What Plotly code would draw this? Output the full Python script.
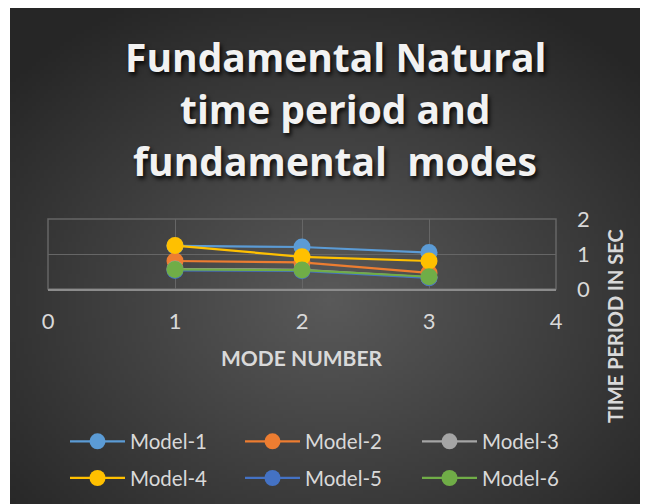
import base64
import struct
import zlib

import numpy as np
import plotly.graph_objects as go

# ---------------- data ----------------
mode_number = [1, 2, 3]
series_names = ["Model-1", "Model-2", "Model-3", "Model-4", "Model-5", "Model-6"]
model_1 = [1.23, 1.20, 1.04]
model_2 = [0.80, 0.76, 0.46]
model_3 = [0.57, 0.55, 0.33]
model_4 = [1.24, 0.92, 0.80]
model_5 = [0.53, 0.52, 0.32]
model_6 = [0.56, 0.54, 0.35]
series_values = [model_1, model_2, model_3, model_4, model_5, model_6]
series_colors = ["#5B9BD5", "#ED7D31", "#A5A5A5", "#FFC000", "#4472C4", "#70AD47"]
x_ticks = [0, 1, 2, 3, 4]
y_ticks = [0, 1, 2]
title_lines = ["Fundamental Natural", "time period and", "fundamental  modes"]

# ---------------- geometry (figure pixels; page body adds 8px offset) ----------------
OFF = 8
W, H = 640, 496
L, R, T, B = 40, 92, 211, 215
PW, PH = W - L - R, H - T - B


def sx(px):  # screen x -> figure paper x
    return (px - OFF - L) / PW


def sy(py):  # screen y -> figure paper y
    return (H - B - (py - OFF)) / PH


def cx(px):  # screen x -> container x
    return (px - OFF) / W


def cy(py):  # screen y -> container y
    return 1 - (py - OFF) / H


# ---------------- radial gradient background as PNG ----------------
def make_png(arr):
    h, w, _ = arr.shape
    raw = b"".join(b"\x00" + arr[j].tobytes() for j in range(h))

    def chunk(tag, data):
        c = struct.pack(">I", len(data)) + tag + data
        return c + struct.pack(">I", zlib.crc32(tag + data) & 0xFFFFFFFF)

    png = b"\x89PNG\r\n\x1a\n"
    png += chunk(b"IHDR", struct.pack(">IIBBBBB", w, h, 8, 2, 0, 0, 0))
    png += chunk(b"IDAT", zlib.compress(raw, 9))
    png += chunk(b"IEND", b"")
    return "data:image/png;base64," + base64.b64encode(png).decode()


bg_x0, bg_y0 = 10, 8          # screen
bg_w, bg_h = 648 - bg_x0, 504 - bg_y0
gw, gh = 160, 124
xs = bg_x0 + (np.arange(gw) + 0.5) * bg_w / gw
ys = bg_y0 + (np.arange(gh) + 0.5) * bg_h / gh
XX, YY = np.meshgrid(xs, ys)
t = np.sqrt(((XX - 330) / 430) ** 2 + ((YY - 300) / 340) ** 2)
t = np.clip(t, 0, 1)
c_in, c_out = 0x5A, 0x26
val = (c_in + (c_out - c_in) * t).astype(np.uint8)
img = np.stack([val, val, val], axis=-1)
bg_uri = make_png(img)

# ---------------- figure ----------------
legend_ids = ["legend", "legend2", "legend3", "legend", "legend2", "legend3"]
fig = go.Figure()
for i, (name, vals, col) in enumerate(zip(series_names, series_values, series_colors)):
    fig.add_trace(
        go.Scatter(
            x=mode_number,
            y=vals,
            name=name,
            mode="lines+markers",
            line=dict(color=col, width=2.25),
            marker=dict(color=col, size=17, line=dict(width=0)),
            legend=legend_ids[i],
            legendgroup=name,
        )
    )

TXT = "#D9D9D9"
GRID = "#666666"
FONT = "Lato, 'Open Sans', sans-serif"
TFONT = "'Open Sans', Lato, sans-serif"

legend_common = dict(
    orientation="v",
    xanchor="left",
    yanchor="middle",
    xref="container",
    yref="container",
    bgcolor="rgba(0,0,0,0)",
    font=dict(size=20.5, color=TXT, family=FONT),
    itemwidth=55,
    tracegroupgap=7,
    y=cy(460),
)

annotations = []
for line_text, y_screen in zip(title_lines, [57, 109, 160]):
    annotations.append(
        dict(
            text=line_text,
            xref="paper",
            yref="paper",
            x=sx(335),
            y=sy(y_screen),
            xanchor="center",
            yanchor="middle",
            showarrow=False,
            font=dict(size=39, color="#F2F2F2", family=TFONT, weight="bold",
                      shadow="2px 3px 4px rgba(0,0,0,0.85)"),
        )
    )
annotations += [
    dict(
        text="MODE NUMBER",
        xref="paper",
        yref="paper",
        x=sx(301),
        y=sy(357),
        xanchor="center",
        yanchor="middle",
        showarrow=False,
        font=dict(size=21, color=TXT, family=FONT, weight="bold"),
    ),
    dict(
        text="TIME PERIOD IN SEC",
        xref="paper",
        yref="paper",
        x=sx(615),
        y=sy(326),
        xanchor="center",
        yanchor="middle",
        textangle=-90,
        showarrow=False,
        font=dict(size=20, color=TXT, family=FONT, weight="bold"),
    ),
]

fig.update_layout(
    width=W,
    height=H,
    margin=dict(l=L, r=R, t=T, b=B, autoexpand=False),
    paper_bgcolor="white",
    plot_bgcolor="rgba(0,0,0,0)",
    font=dict(family=FONT, color=TXT),
    images=[
        dict(
            source=bg_uri,
            xref="paper",
            yref="paper",
            x=sx(bg_x0),
            y=sy(bg_y0),
            sizex=bg_w / PW,
            sizey=bg_h / PH,
            xanchor="left",
            yanchor="top",
            sizing="stretch",
            layer="below",
        )
    ],
    shapes=[
        dict(type="rect", xref="paper", yref="paper", x0=0, x1=1, y0=0, y1=1,
             line=dict(color=GRID, width=1.5), layer="below")
    ],
    xaxis=dict(
        range=[0, 4],
        tickvals=x_ticks,
        showgrid=True,
        gridcolor=GRID,
        gridwidth=1,
        showline=True,
        linecolor="#8C8C8C",
        linewidth=2,
        zeroline=False,
        ticks="",
        ticklabelstandoff=12,
        tickfont=dict(size=22, color=TXT, family=FONT),
    ),
    yaxis=dict(
        range=[0, 2],
        tickvals=y_ticks,
        side="right",
        showgrid=True,
        gridcolor=GRID,
        gridwidth=1,
        zeroline=False,
        showline=False,
        ticks="",
        ticklabelstandoff=20,
        tickfont=dict(size=22, color=TXT, family=FONT),
    ),
    legend=dict(x=cx(65), **legend_common),
    legend2=dict(x=cx(240), **legend_common),
    legend3=dict(x=cx(417), **legend_common),
    annotations=annotations,
)

fig.write_html("out.html")
